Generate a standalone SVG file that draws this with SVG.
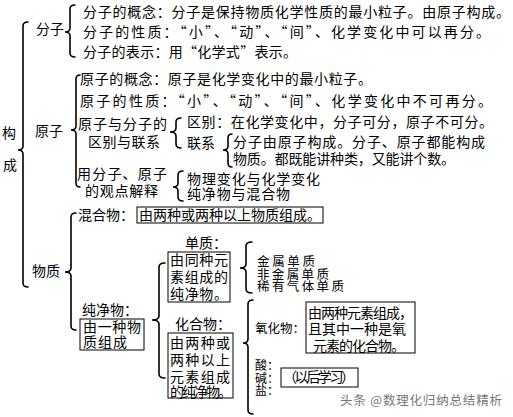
<svg xmlns="http://www.w3.org/2000/svg" width="513" height="417" viewBox="0 0 513 417">
<style>
text{font-family:"Noto Sans CJK SC","Noto Sans CJK TC",sans-serif;font-size:14px;fill:#000}
.s{font-size:12.5px}
.t{font-size:12px}
.box{fill:none;stroke:#000;stroke-width:1}
.br{fill:none;stroke:#000;stroke-width:1.6;stroke-linecap:round}
.wm{font-size:12.5px;fill:#777}
</style>
<rect width="513" height="417" fill="#fff"/>
<g id="connectors">
<path class="br" d="M28 22 Q23 22 23 26 L23 146 Q23 150 18 150 Q23 150 23 154 L23 283 Q23 287 28 287"/>
<path class="br" d="M75 5 Q70 5 70 9 L70 28 Q70 32 65 32 Q70 32 70 36 L70 53 Q70 57 75 57"/>
<path class="br" d="M80 75 Q76 75 76 79 L76 126 Q76 130 71 130 Q76 130 76 134 L76 183 Q76 187 80 187"/>
<path class="br" d="M181 118 Q176 118 176 122 L176 128 Q176 132 170 132 Q176 132 176 136 L176 144 Q176 148 181 148"/>
<path class="br" d="M232 134 Q228 134 228 138 L228 146 Q228 150 223 150 Q228 150 228 154 L228 163 Q228 167 232 167"/>
<path class="br" d="M183 171 Q178 171 178 175 L178 183 Q178 187 173 187 Q178 187 178 191 L178 197 Q178 201 183 201"/>
<path class="br" d="M76 213 Q71 213 71 217 L71 268 Q71 272 65 272 Q71 272 71 276 L71 326 Q71 330 76 330"/>
<path class="br" d="M165 263 Q159 263 159 267 L159 316 Q159 320 152 320 Q159 320 159 324 L159 374 Q159 378 165 378"/>
<path class="br" d="M252 242 Q246 242 246 246 L246 264 Q246 268 240 268 Q246 268 246 272 L246 289 Q246 293 252 293"/>
<path class="br" d="M253 300 Q248 300 248 304 L248 339 Q248 343 243 343 Q248 343 248 347 L248 410 Q248 414 253 414"/>
</g>
<g id="goucheng">
<text x="2" y="138">构</text>
<text x="3" y="170">成</text>
</g>
<g id="fenzi">
<text x="36" y="34">分子</text>
<text x="83" y="17" textLength="427" lengthAdjust="spacing">分子的概念：分子是保持物质化学性质的最小粒子。由原子构成。</text>
<text x="83" y="37" textLength="407" lengthAdjust="spacing">分子的性质：“小”、“动”、“间”、化学变化中可以再分。</text>
<text x="83" y="57" textLength="214" lengthAdjust="spacing">分子的表示：用“化学式”表示。</text>
</g>
<g id="yuanzi">
<text x="35" y="136">原子</text>
<text x="80" y="84" textLength="292" lengthAdjust="spacing">原子的概念：原子是化学变化中的最小粒子。</text>
<text x="80" y="106" textLength="412" lengthAdjust="spacing">原子的性质：“小”、“动”、“间”、化学变化中不可再分。</text>
</g>
<g id="qubie-lianxi">
<text x="78" y="129" textLength="89" lengthAdjust="spacing">原子与分子的</text>
<text x="88" y="147" textLength="72" lengthAdjust="spacing">区别与联系</text>
<text x="187" y="127" textLength="306" lengthAdjust="spacing">区别：在化学变化中，分子可分，原子不可分。</text>
<text x="187" y="148">联系</text>
<text x="233" y="147" textLength="252" lengthAdjust="spacing">分子由原子构成。分子、原子都能构成</text>
<text x="233" y="164" textLength="222" lengthAdjust="spacing">物质。都既能讲种类，又能讲个数。</text>
</g>
<g id="guandian">
<text x="77" y="179" textLength="90" lengthAdjust="spacing">用分子、原子</text>
<text x="85" y="196" textLength="73" lengthAdjust="spacing">的观点解释</text>
<text x="187" y="184" textLength="133" lengthAdjust="spacing">物理变化与化学变化</text>
<text x="187" y="199" textLength="103" lengthAdjust="spacing">纯净物与混合物</text>
</g>
<g id="wuzhi">
<text x="32" y="276">物质</text>
</g>
<g id="hunhewu">
<text x="78" y="220">混合物：</text>
<rect class="box" x="137" y="207" width="186" height="16"/>
<text x="139" y="220" textLength="182" lengthAdjust="spacing">由两种或两种以上物质组成。</text>
</g>
<g id="chunjingwu">
<text x="82" y="315">纯净物：</text>
<rect class="box" x="80" y="319" width="64" height="31"/>
<text x="83" y="332" textLength="58" lengthAdjust="spacing">由一种物</text>
<text x="83" y="347" textLength="44" lengthAdjust="spacing">质组成</text>
</g>
<g id="danzhi">
<text x="185" y="248">单质：</text>
<rect class="box" x="168" y="252" width="62" height="50"/>
<text x="170" y="265" textLength="58" lengthAdjust="spacing">由同种元</text>
<text x="170" y="282" textLength="58" lengthAdjust="spacing">素组成的</text>
<text x="170" y="299" textLength="58" lengthAdjust="spacing">纯净物。</text>
</g>
<g id="danzhi-types">
<text class="s" x="257" y="266" textLength="58" lengthAdjust="spacing">金属单质</text>
<text class="s" x="257" y="278.5" textLength="72" lengthAdjust="spacing">非金属单质</text>
<text class="s" x="257" y="291" textLength="87" lengthAdjust="spacing">稀有气体单质</text>
</g>
<g id="huahewu">
<text x="175" y="329">化合物：</text>
<rect class="box" x="168" y="333" width="65" height="65"/>
<text x="170" y="348" textLength="60" lengthAdjust="spacing">由两种或</text>
<text x="170" y="365" textLength="60" lengthAdjust="spacing">两种以上</text>
<text x="170" y="382" textLength="60" lengthAdjust="spacing">元素组成</text>
<text x="170" y="397" textLength="62" lengthAdjust="spacing">的纯净物。</text>
</g>
<g id="yanghuawu">
<text class="s" x="255" y="333" textLength="50">氧化物：</text>
<rect class="box" x="306" y="302" width="109" height="51"/>
<text x="308" y="318" textLength="105" lengthAdjust="spacing">由两种元素组成，</text>
<text x="308" y="334" textLength="98" lengthAdjust="spacing">且其中一种是氧</text>
<text x="313" y="351" textLength="92" lengthAdjust="spacing">元素的化合物。</text>
</g>
<g id="suan-jian-yan">
<text class="t" x="255" y="370">酸：</text>
<text class="t" x="255" y="382.5">碱：</text>
<text class="t" x="255" y="395">盐：</text>
<rect class="box" x="281" y="368" width="77" height="19"/>
<text x="283" y="382" textLength="72" lengthAdjust="spacing">（以后学习）</text>
</g>
<g id="watermark">
<text class="wm" x="340" y="405" textLength="162" lengthAdjust="spacing">头条 @数理化归纳总结精析</text>
</g>
</svg>
